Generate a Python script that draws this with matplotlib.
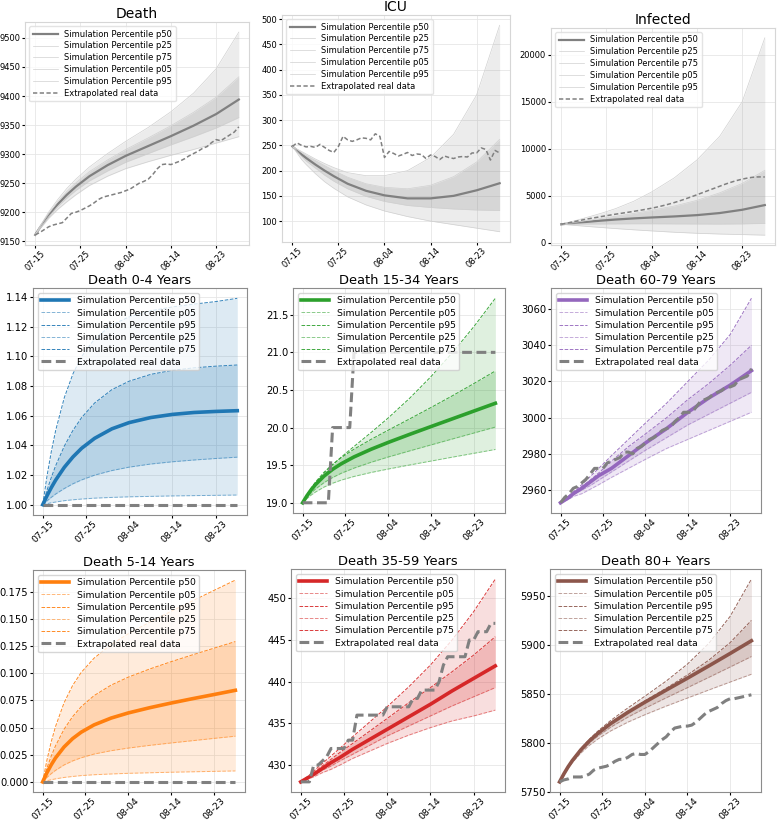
import matplotlib
matplotlib.use("Agg")
import matplotlib.pyplot as plt

# day index since 07-15, grid used for simulation percentiles
days = [0, 1, 2, 3, 5, 7, 9, 12, 16, 20, 25, 30, 35, 40, 45]
real_days = list(range(46))
tick_days = [0, 10, 20, 30, 40]
tick_labels = ["07-15", "07-25", "08-04", "08-14", "08-23"]

# ---- Death (total)
death_p50 = [9161, 9173, 9184, 9195, 9214, 9230, 9244, 9262, 9281, 9297, 9314, 9331, 9349, 9369, 9394]
death_p25 = [9161, 9172, 9182, 9192.5, 9210, 9224.5, 9237.5, 9254, 9271, 9286, 9301, 9316, 9330, 9345, 9363]
death_p75 = [9161, 9174, 9186, 9197.5, 9218, 9235.5, 9250.5, 9270, 9290, 9308, 9328, 9349, 9372, 9398, 9433]
death_p05 = [9161, 9171, 9180, 9189.5, 9205, 9218, 9230, 9246, 9262, 9275, 9287, 9298, 9308, 9319, 9330]
death_p95 = [9161, 9175, 9188, 9200.5, 9222, 9241, 9257, 9278, 9301, 9322, 9346, 9373, 9405, 9447, 9510]
death_real = [9161, 9165, 9170, 9175, 9178, 9180, 9182, 9190, 9198, 9200,
              9203, 9207, 9211, 9216, 9222, 9226, 9228, 9230, 9232, 9234,
              9237, 9240, 9245, 9250, 9253, 9257, 9265, 9275, 9282, 9283,
              9282, 9285, 9288, 9292, 9297, 9301, 9305, 9310, 9313, 9320,
              9325, 9323, 9328, 9333, 9338, 9347]

# ---- ICU
icu_p50 = [248, 240, 232, 225, 212, 200, 189, 174, 160, 151, 145, 145, 150, 161, 175]
icu_p25 = [248, 238, 228, 219, 205, 191, 179, 164, 149, 139, 131, 127, 124, 122, 121]
icu_p75 = [248, 242, 236, 230, 220, 210, 200, 187, 174, 167, 164, 171, 188, 217, 262]
icu_p05 = [248, 235, 222, 212, 194, 178, 165, 148, 132, 120, 109, 100, 93, 86, 79]
icu_p95 = [248, 243, 238, 233, 223, 214, 206, 196, 190, 190, 200, 226, 272, 350, 488]
icu_real = [248, 255, 250, 247, 248, 246, 252, 246, 240, 236,
            248, 268, 261, 258, 261, 265, 264, 261, 273, 268,
            226, 238, 234, 229, 232, 236, 230, 233, 232, 224,
            231, 228, 222, 229, 226, 224, 227, 228, 227, 235,
            235, 245, 242, 221, 240, 235]

# ---- Infected
inf_p50 = [1950, 2000, 2050, 2100, 2180, 2270, 2350, 2460, 2580, 2680, 2790, 2930, 3150, 3500, 4000]
inf_p25 = [1950, 1955, 1960, 1970, 1980, 1985, 1990, 2000, 2010, 2010, 2000, 1990, 1980, 2000, 2050]
inf_p75 = [1950, 2015, 2080, 2150, 2300, 2440, 2590, 2800, 3110, 3450, 3900, 4500, 5300, 6300, 7700]
inf_p05 = [1950, 1915, 1880, 1840, 1760, 1680, 1610, 1500, 1370, 1250, 1110, 1000, 920, 860, 800]
inf_p95 = [1950, 2070, 2200, 2330, 2600, 2870, 3150, 3620, 4400, 5400, 6900, 8800, 11300, 15000, 21800]
inf_real = [1950, 2050, 2150, 2250, 2350, 2450, 2540, 2620, 2700, 2790,
            2870, 2950, 3030, 3100, 3180, 3250, 3330, 3410, 3490, 3580,
            3670, 3770, 3880, 4000, 4130, 4270, 4420, 4580, 4750, 4920,
            5100, 5280, 5460, 5640, 5820, 6000, 6180, 6350, 6500, 6640,
            6760, 6860, 6940, 6990, 7000, 6990]

# ---- Death 0-4
d04_p50 = [1.0, 1.0061, 1.0116, 1.0166, 1.0252, 1.0322, 1.0380, 1.0447, 1.0511, 1.0553,
           1.0587, 1.0608, 1.0621, 1.0628, 1.0633]
d04_p05 = [1.0, 1.0007, 1.0013, 1.0018, 1.0027, 1.0033, 1.0038, 1.0044, 1.0049, 1.0053,
           1.0056, 1.0059, 1.0061, 1.0063, 1.0065]
d04_p95 = [1.0, 1.0195, 1.0360, 1.0501, 1.0722, 1.0882, 1.0998, 1.1117, 1.1211, 1.1265,
           1.1306, 1.1332, 1.1351, 1.1368, 1.1390]
d04_p25 = [1.0, 1.0026, 1.0050, 1.0072, 1.0109, 1.0141, 1.0167, 1.0199, 1.0230, 1.0253,
           1.0274, 1.0289, 1.0301, 1.0311, 1.0320]
d04_p75 = [1.0, 1.0098, 1.0185, 1.0263, 1.0395, 1.0501, 1.0587, 1.0685, 1.0775, 1.0832,
           1.0878, 1.0905, 1.0922, 1.0933, 1.0941]
d04_real_days = [0, 45]
d04_real = [1.0, 1.0]

# ---- Death 5-14
d514_p50 = [0, 0.0084, 0.0157, 0.0220, 0.0321, 0.0398, 0.0457, 0.0524, 0.0587, 0.0634,
            0.0682, 0.0725, 0.0765, 0.0803, 0.0842]
d514_p05 = [0, 0.0011, 0.0020, 0.0028, 0.0041, 0.0050, 0.0058, 0.0066, 0.0073, 0.0079,
            0.0084, 0.0089, 0.0093, 0.0097, 0.0101]
d514_p95 = [0, 0.0200, 0.0368, 0.0508, 0.0727, 0.0886, 0.1006, 0.1137, 0.1263, 0.1362,
            0.1468, 0.1568, 0.1664, 0.1760, 0.1855]
d514_p25 = [0, 0.0041, 0.0076, 0.0106, 0.0156, 0.0193, 0.0222, 0.0256, 0.0287, 0.0311,
            0.0336, 0.0358, 0.0379, 0.0400, 0.0420]
d514_p75 = [0, 0.0127, 0.0237, 0.0331, 0.0484, 0.0600, 0.0691, 0.0793, 0.0890, 0.0963,
            0.1038, 0.1105, 0.1168, 0.1229, 0.1290]
d514_real_days = [0, 45]
d514_real = [0, 0]

# ---- Death 15-34
d1534_p50 = [19.0, 19.093, 19.173, 19.242, 19.355, 19.445, 19.518, 19.610, 19.712, 19.803,
             19.910, 20.014, 20.117, 20.220, 20.323]
d1534_p05 = [19.0, 19.056, 19.103, 19.143, 19.209, 19.260, 19.301, 19.350, 19.403, 19.449,
             19.503, 19.555, 19.607, 19.658, 19.709]
d1534_p95 = [19.0, 19.098, 19.184, 19.261, 19.393, 19.505, 19.607, 19.749, 19.935, 20.129,
             20.391, 20.680, 20.998, 21.344, 21.720]
d1534_p25 = [19.0, 19.070, 19.130, 19.183, 19.268, 19.336, 19.392, 19.461, 19.539, 19.609,
             19.690, 19.770, 19.849, 19.928, 20.007]
d1534_p75 = [19.0, 19.106, 19.197, 19.276, 19.407, 19.512, 19.600, 19.713, 19.844, 19.966,
             20.116, 20.268, 20.424, 20.586, 20.753]
d1534_real_days = [0, 6, 7, 11, 12, 45]
d1534_real = [19, 19, 20, 20, 21, 21]

# ---- Death 35-59
d3559_p50 = [428, 428.3, 428.6, 428.9, 429.6, 430.3, 430.9, 431.9, 433.1, 434.3, 435.8, 437.3, 438.9, 440.4, 441.9]
d3559_p05 = [428, 428.2, 428.4, 428.6, 429.1, 429.5, 430.0, 430.8, 431.7, 432.6, 433.6, 434.5, 435.3, 435.9, 436.6]
d3559_p95 = [428, 428.4, 428.8, 429.3, 430.2, 431.1, 432.0, 433.4, 435.2, 437.0, 439.4, 442.0, 445.0, 448.4, 452.3]
d3559_p25 = [428, 428.25, 428.5, 428.8, 429.4, 429.9, 430.5, 431.3, 432.4, 433.5, 434.7, 435.9, 437.1, 438.2, 439.3]
d3559_p75 = [428, 428.35, 428.7, 429.1, 429.9, 430.7, 431.5, 432.6, 434.1, 435.6, 437.5, 439.3, 441.2, 443.2, 445.4]
d3559_real = [428, 428, 428, 430, 430, 430.5, 431, 432, 432, 432,
              432, 433, 433, 436, 436, 436, 436, 436, 436, 436,
              437, 437, 437, 437, 437, 437, 438, 438, 439, 439,
              439, 439, 440, 442, 443, 443, 443, 443, 443, 445,
              445, 446, 446, 446, 447, 447]

# ---- Death 60-79
d6079_p50 = [2953, 2954.5, 2956, 2958, 2961, 2964.5, 2968, 2972, 2979, 2986, 2994, 3003, 3011, 3018, 3026]
d6079_p05 = [2953, 2954, 2955, 2956.5, 2958, 2960.5, 2963, 2967, 2972, 2977, 2983, 2988, 2993, 2998, 3003]
d6079_p95 = [2953, 2955, 2957, 2959, 2963, 2967.5, 2972, 2979, 2988, 2997, 3008, 3020, 3032, 3046, 3066]
d6079_p25 = [2953, 2954.5, 2956, 2957.5, 2960, 2962.5, 2965.5, 2970, 2976, 2982, 2989, 2996, 3002, 3008, 3014]
d6079_p75 = [2953, 2954.5, 2956, 2958, 2962, 2965.5, 2969.5, 2976, 2984, 2991, 3000, 3010, 3019, 3029, 3040]
d6079_real = [2953, 2956, 2958, 2961, 2962, 2964, 2966, 2969, 2972, 2972,
              2972, 2975, 2976, 2977, 2978, 2981, 2981, 2980, 2983, 2984,
              2986, 2988, 2989, 2991, 2993, 2994, 2995, 2998, 3000, 3003,
              3003, 3003, 3006, 3009, 3010, 3011, 3013, 3014, 3015, 3017,
              3017, 3018, 3021, 3022, 3023, 3027]

# ---- Death 80+
d80_p50 = [5760, 5768.1, 5775.4, 5781.8, 5792.8, 5801.9, 5809.6, 5819.6, 5831.0, 5841.4,
           5853.8, 5866.0, 5878.5, 5891.2, 5904.2]
d80_p05 = [5760, 5767.4, 5774.0, 5779.8, 5789.5, 5797.4, 5803.9, 5812.1, 5821.0, 5828.6,
           5837.4, 5845.7, 5853.9, 5862.0, 5870.0]
d80_p95 = [5760, 5768.4, 5775.9, 5782.6, 5794.1, 5803.7, 5812.0, 5822.8, 5835.5, 5847.5,
           5863.0, 5880.4, 5901.5, 5929.1, 5967.2]
d80_p25 = [5760, 5767.8, 5774.7, 5780.8, 5791.2, 5799.7, 5806.8, 5815.9, 5826.1, 5835.2,
           5845.9, 5856.3, 5866.8, 5877.4, 5888.1]
d80_p75 = [5760, 5768.3, 5775.6, 5782.2, 5793.3, 5802.6, 5810.5, 5820.6, 5832.2, 5842.8,
           5855.7, 5869.3, 5884.4, 5902.3, 5925.0]
d80_real = [5760, 5762, 5763, 5765, 5765, 5765, 5766, 5768, 5772, 5774,
            5775, 5776, 5778, 5781, 5783, 5783, 5785, 5788, 5789, 5788,
            5788, 5791, 5795, 5799, 5803, 5806, 5811, 5815, 5816, 5817,
            5817, 5818, 5821, 5825, 5829, 5832, 5834, 5836, 5840, 5843,
            5845, 5845, 5846, 5847, 5848, 5849]


def px(left, top, right, bottom):
    """pixel box -> figure fraction rect"""
    W, H = 778, 824
    return [left / W, 1 - bottom / H, (right - left) / W, (bottom - top) / H]


def style_axes(ax, edge, ytick_size, xtick_size):
    ax.set_xticks(tick_days)
    ax.set_xticklabels(tick_labels, rotation=45, fontsize=xtick_size)
    ax.tick_params(axis="y", labelsize=ytick_size, length=2, pad=1.5)
    ax.tick_params(axis="x", length=2, pad=1)
    ax.grid(True, color="#e6e6e6", linewidth=0.6)
    ax.set_axisbelow(True)
    for s in ax.spines.values():
        s.set_color(edge)
        s.set_linewidth(0.8)


def grey_panel(ax, title, p50, p25, p75, p05, p95, real):
    g = "gray"
    ax.plot(days, p50, color=g, lw=1.6, label="Simulation Percentile p50")
    ax.plot(days, p25, color="#d0d0d0", lw=0.5, label="Simulation Percentile p25")
    ax.plot(days, p75, color="#d0d0d0", lw=0.5, label="Simulation Percentile p75")
    ax.plot(days, p05, color="#d0d0d0", lw=0.5, label="Simulation Percentile p05")
    ax.plot(days, p95, color="#d0d0d0", lw=0.5, label="Simulation Percentile p95")
    ax.fill_between(days, p05, p95, color=g, alpha=0.15, lw=0)
    ax.fill_between(days, p25, p75, color=g, alpha=0.2, lw=0)
    ax.plot(real_days, real, color=g, lw=1.1, ls=(0, (2.8, 1.6)), label="Extrapolated real data")
    ax.set_title(title, fontsize=10, pad=3)
    ax.legend(loc="upper left", fontsize=6, frameon=True, edgecolor="#dddddd",
              handlelength=3, borderpad=0.4, labelspacing=0.35, fancybox=True)
    style_axes(ax, "#d6d6d6", 6, 6)


def color_panel(ax, title, c, p50, p05, p95, p25, p75, rdays, real):
    ax.plot(days, p50, color=c, lw=2.6, label="Simulation Percentile p50")
    ax.plot(days, p05, color=c, lw=0.7, ls="--", alpha=0.55, label="Simulation Percentile p05")
    ax.plot(days, p95, color=c, lw=0.7, ls="--", alpha=0.9, label="Simulation Percentile p95")
    ax.plot(days, p25, color=c, lw=0.7, ls="--", alpha=0.55, label="Simulation Percentile p25")
    ax.plot(days, p75, color=c, lw=0.7, ls="--", alpha=0.9, label="Simulation Percentile p75")
    ax.fill_between(days, p05, p95, color=c, alpha=0.15, lw=0)
    ax.fill_between(days, p25, p75, color=c, alpha=0.2, lw=0)
    ax.plot(rdays, real, color="gray", lw=2.2, ls=(0, (3.2, 1.5)), label="Extrapolated real data")
    ax.set_title(title, fontsize=9.4, pad=3)
    ax.legend(loc="upper left", fontsize=6.7, frameon=True, edgecolor="#cccccc",
              framealpha=0.8, handlelength=3, borderpad=0.4, labelspacing=0.35)
    style_axes(ax, "#8c8c8c", 7.2, 6.7)


def main():
    fig = plt.figure(figsize=(7.78, 8.24), dpi=100)

    ax = fig.add_axes(px(25, 22, 249, 245))
    grey_panel(ax, "Death", death_p50, death_p25, death_p75, death_p05, death_p95, death_real)
    ax = fig.add_axes(px(282, 15, 510, 242))
    grey_panel(ax, "ICU", icu_p50, icu_p25, icu_p75, icu_p05, icu_p95, icu_real)
    ax = fig.add_axes(px(551, 28, 775, 245))
    grey_panel(ax, "Infected", inf_p50, inf_p25, inf_p75, inf_p05, inf_p95, inf_real)

    ax = fig.add_axes(px(33, 288, 247, 515))
    color_panel(ax, "Death 0-4 Years", "tab:blue", d04_p50, d04_p05, d04_p95,
                d04_p25, d04_p75, d04_real_days, d04_real)
    ax = fig.add_axes(px(293, 288, 505, 513))
    color_panel(ax, "Death 15-34 Years", "tab:green", d1534_p50, d1534_p05, d1534_p95,
                d1534_p25, d1534_p75, d1534_real_days, d1534_real)
    ax = fig.add_axes(px(551, 288, 761, 513))
    color_panel(ax, "Death 60-79 Years", "tab:purple", d6079_p50, d6079_p05, d6079_p95,
                d6079_p25, d6079_p75, real_days, d6079_real)

    ax = fig.add_axes(px(33, 570, 245, 792))
    color_panel(ax, "Death 5-14 Years", "tab:orange", d514_p50, d514_p05, d514_p95,
                d514_p25, d514_p75, d514_real_days, d514_real)
    ax = fig.add_axes(px(291, 569, 505, 792))
    color_panel(ax, "Death 35-59 Years", "tab:red", d3559_p50, d3559_p05, d3559_p95,
                d3559_p25, d3559_p75, real_days, d3559_real)
    ax = fig.add_axes(px(550, 569, 761, 792))
    color_panel(ax, "Death 80+ Years", "tab:brown", d80_p50, d80_p05, d80_p95,
                d80_p25, d80_p75, real_days, d80_real)

    fig.savefig("out.png", dpi=100)


if __name__ == "__main__":
    main()
